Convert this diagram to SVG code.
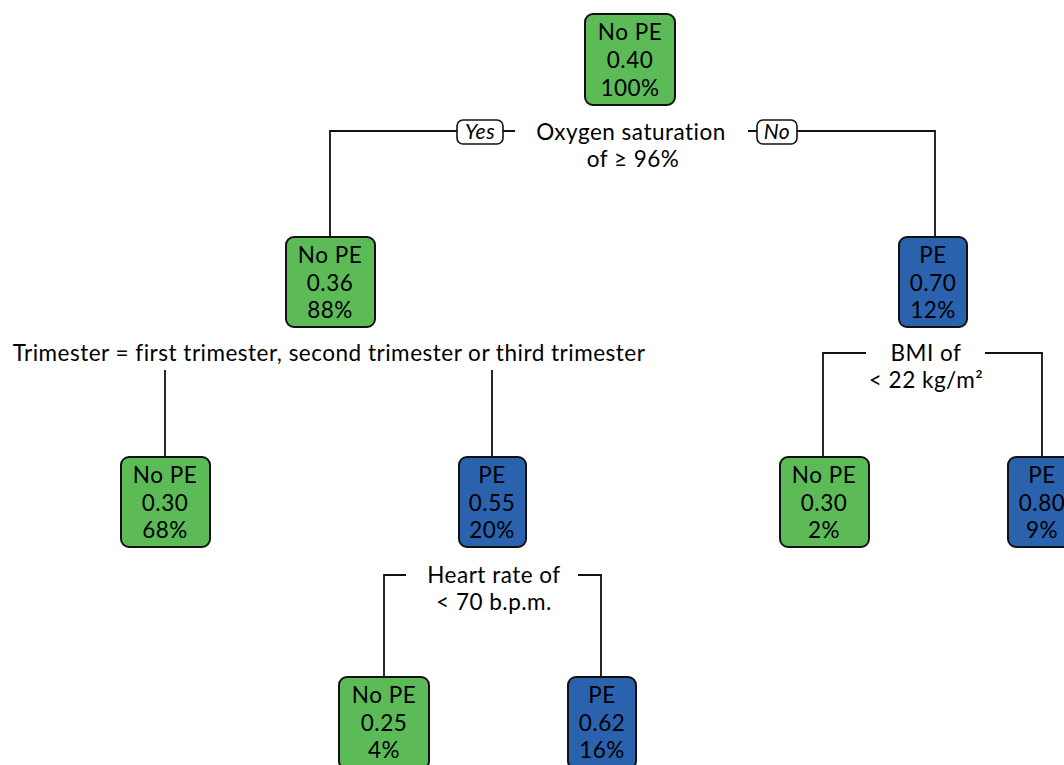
<svg xmlns="http://www.w3.org/2000/svg" width="1064" height="765" viewBox="0 0 1064 765">
<style>
text{font-family:Lato,"Noto Sans",sans-serif;font-size:22.5px;letter-spacing:0.5px;fill:#000;text-anchor:middle}
.g{fill:#5cbb57;stroke:#111;stroke-width:2}
.b{fill:#2a62ae;stroke:#111;stroke-width:2}
.c{fill:none;stroke:#111;stroke-width:1.8}
.lb{fill:#fff;stroke:#111;stroke-width:1.6}
.it{font-style:italic;font-size:21px}
</style>
<rect width="1064" height="765" fill="#fff"/>
<g id="connectors">
<path class="c" d="M330,237V131H457M503,131H515M748,131H757M797,131H935V237"/>
<path class="c" d="M165,457V370M492,457V370"/>
<path class="c" d="M823,457V353H866M985,353H1042V457"/>
<path class="c" d="M384,677V575H406M578,575H601V677"/>
<rect class="lb" x="457" y="120" width="46" height="24" rx="6"/>
<text class="it" x="480" y="139">Yes</text>
<rect class="lb" x="757" y="120" width="40" height="24" rx="6"/>
<text class="it" x="777" y="139">No</text>
<text x="631" y="140">Oxygen saturation</text>
<text x="633" y="167">of ≥ 96%</text>
<text x="329" y="361">Trimester = first trimester, second trimester or third trimester</text>
<text x="926" y="361">BMI of</text>
<text x="926" y="388">&lt; 22 kg/m²</text>
<text x="494" y="583">Heart rate of</text>
<text x="494" y="610">&lt; 70 b.p.m.</text>
</g>
<g id="n1"><rect class="g" x="585" y="14" width="90" height="91" rx="8"/><text x="630" y="40">No PE</text><text x="630" y="68">0.40</text><text x="630" y="96">100%</text></g>
<g id="n2"><rect class="g" x="286" y="237" width="89" height="90" rx="8"/><text x="330" y="263">No PE</text><text x="330" y="290.5">0.36</text><text x="330" y="318">88%</text></g>
<g id="n3"><rect class="b" x="899" y="237" width="68" height="90" rx="8"/><text x="933" y="263">PE</text><text x="933" y="290.5">0.70</text><text x="933" y="318">12%</text></g>
<g id="n4"><rect class="g" x="121" y="457" width="89" height="90" rx="8"/><text x="165" y="483">No PE</text><text x="165" y="510.5">0.30</text><text x="165" y="538">68%</text></g>
<g id="n5"><rect class="b" x="459" y="457" width="67" height="90" rx="8"/><text x="492" y="483">PE</text><text x="492" y="510.5">0.55</text><text x="492" y="538">20%</text></g>
<g id="n6"><rect class="g" x="780" y="457" width="89" height="90" rx="8"/><text x="824" y="483">No PE</text><text x="824" y="510.5">0.30</text><text x="824" y="538">2%</text></g>
<g id="n7"><rect class="b" x="1008" y="457" width="68" height="90" rx="8"/><text x="1042" y="483">PE</text><text x="1042" y="510.5">0.80</text><text x="1042" y="538">9%</text></g>
<g id="n8"><rect class="g" x="339" y="677" width="90" height="92" rx="8"/><text x="384" y="703">No PE</text><text x="384" y="730.5">0.25</text><text x="384" y="758">4%</text></g>
<g id="n9"><rect class="b" x="568" y="677" width="68" height="92" rx="8"/><text x="602" y="703">PE</text><text x="602" y="730.5">0.62</text><text x="602" y="758">16%</text></g>
</svg>
